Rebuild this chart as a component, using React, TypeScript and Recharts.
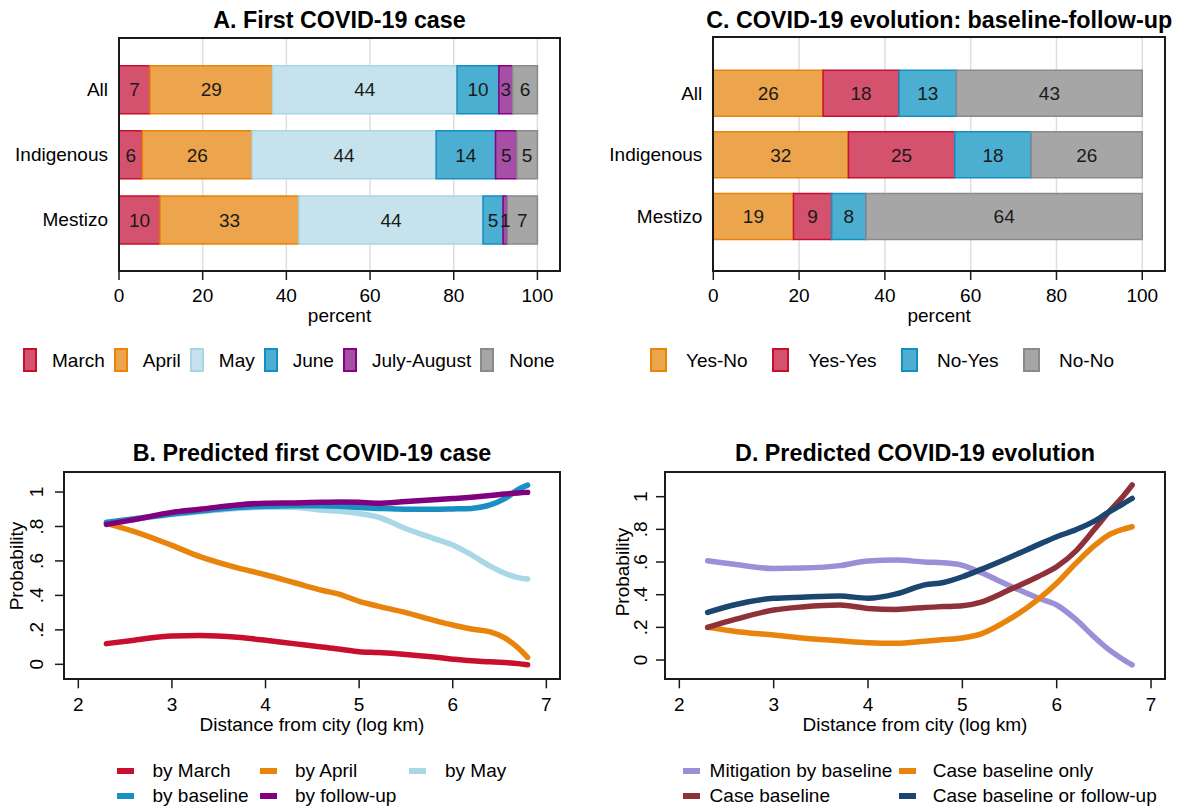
import React from 'react';
import { BarChart, Bar, LineChart, Line, XAxis, YAxis, CartesianGrid, LabelList } from 'recharts';

const FONT = '"Liberation Sans", Arial, Helvetica, sans-serif';

// ---- A. First COVID-19 case (percent of households) ----
const groups = ['All', 'Indigenous', 'Mestizo'];
const marchPct = [7.4, 5.6, 9.8];
const aprilPct = [29.3, 26.2, 33.2];
const mayPct = [44.1, 44.0, 44.0];
const junePct = [10.0, 14.2, 4.8];
const julAugPct = [3.3, 5.1, 1.0];
const nonePct = [5.9, 4.9, 7.2];

// ---- C. COVID-19 evolution baseline / follow-up ----
const yesNoPct = [25.6, 31.5, 18.7];
const yesYesPct = [17.7, 24.8, 8.9];
const noYesPct = [13.4, 17.8, 8.0];
const noNoPct = [43.3, 25.9, 64.4];

const pctTicks = [0, 20, 40, 60, 80, 100];

// ---- B / D. predicted probabilities by log distance ----
const logDistance = [2.3, 2.6, 3.0, 3.3, 3.7, 4.0, 4.3, 4.6, 4.8, 5.0, 5.2, 5.5, 5.8, 6.0, 6.2, 6.4, 6.55, 6.7, 6.8];

const byMarch = [0.12, 0.14, 0.165, 0.167, 0.157, 0.14, 0.12, 0.1, 0.088, 0.073, 0.068, 0.057, 0.042, 0.03, 0.02, 0.015, 0.01, 0.004, -0.003];
const byApril = [0.818, 0.77, 0.69, 0.625, 0.56, 0.52, 0.475, 0.43, 0.405, 0.365, 0.338, 0.3, 0.255, 0.228, 0.205, 0.188, 0.155, 0.095, 0.04];
const byMay = [0.82, 0.84, 0.87, 0.885, 0.905, 0.912, 0.912, 0.895, 0.888, 0.875, 0.855, 0.787, 0.73, 0.692, 0.635, 0.57, 0.53, 0.503, 0.495];
const byBaseline = [0.825, 0.845, 0.873, 0.89, 0.91, 0.918, 0.92, 0.92, 0.917, 0.91, 0.905, 0.9, 0.9, 0.902, 0.905, 0.925, 0.96, 1.015, 1.04];
const byFollowUp = [0.812, 0.84, 0.882, 0.9, 0.925, 0.935, 0.937, 0.94, 0.942, 0.94, 0.935, 0.945, 0.955, 0.962, 0.97, 0.98, 0.988, 0.995, 0.998];

const mitigationBaseline = [0.608, 0.585, 0.56, 0.563, 0.578, 0.607, 0.612, 0.6, 0.595, 0.58, 0.535, 0.455, 0.38, 0.337, 0.25, 0.14, 0.065, 0.005, -0.03];
const caseBaselineOnly = [0.2, 0.175, 0.153, 0.135, 0.118, 0.106, 0.102, 0.115, 0.125, 0.135, 0.16, 0.25, 0.37, 0.47, 0.59, 0.7, 0.765, 0.8, 0.816];
const caseBaseline = [0.2, 0.25, 0.306, 0.325, 0.337, 0.316, 0.31, 0.322, 0.327, 0.332, 0.355, 0.43, 0.51, 0.571, 0.665, 0.8, 0.905, 1.0, 1.072];
const caseEither = [0.292, 0.34, 0.378, 0.385, 0.392, 0.378, 0.405, 0.46, 0.475, 0.51, 0.555, 0.628, 0.705, 0.755, 0.797, 0.85, 0.905, 0.955, 0.99];

const distTicks = [2, 3, 4, 5, 6, 7];
const probTicks = [0, 0.2, 0.4, 0.6, 0.8, 1];

type BarSeries = { name: string; values: number[]; fill: string; stroke: string };
type LineSeries = { name: string; values: number[]; color: string };

const firstCaseSeries: BarSeries[] = [
  { name: 'March', values: marchPct, fill: '#d5526e', stroke: '#c8102e' },
  { name: 'April', values: aprilPct, fill: '#eca54c', stroke: '#e8830c' },
  { name: 'May', values: mayPct, fill: '#c6e3ed', stroke: '#a9d6e6' },
  { name: 'June', values: junePct, fill: '#4caed0', stroke: '#1390c0' },
  { name: 'July-August', values: julAugPct, fill: '#a74fa7', stroke: '#850085' },
  { name: 'None', values: nonePct, fill: '#a6a6a6', stroke: '#8a8a8a' },
];

const evolutionSeries: BarSeries[] = [
  { name: 'Yes-No', values: yesNoPct, fill: '#eca54c', stroke: '#e8830c' },
  { name: 'Yes-Yes', values: yesYesPct, fill: '#d5526e', stroke: '#c8102e' },
  { name: 'No-Yes', values: noYesPct, fill: '#4caed0', stroke: '#1390c0' },
  { name: 'No-No', values: noNoPct, fill: '#a6a6a6', stroke: '#8a8a8a' },
];

const firstCaseLines: LineSeries[] = [
  { name: 'by March', values: byMarch, color: '#c8102e' },
  { name: 'by April', values: byApril, color: '#e8830c' },
  { name: 'by May', values: byMay, color: '#a9d7e7' },
  { name: 'by baseline', values: byBaseline, color: '#1a8fc2' },
  { name: 'by follow-up', values: byFollowUp, color: '#800080' },
];

const evolutionLines: LineSeries[] = [
  { name: 'Mitigation by baseline', values: mitigationBaseline, color: '#9b90d8' },
  { name: 'Case baseline only', values: caseBaselineOnly, color: '#e8830c' },
  { name: 'Case baseline', values: caseBaseline, color: '#8e3139' },
  { name: 'Case baseline or follow-up', values: caseEither, color: '#1a4670' },
];

const barTable = (series: BarSeries[]) =>
  groups.map((g, i) => {
    const row: Record<string, any> = { group: g };
    series.forEach((s) => (row[s.name] = s.values[i]));
    return row;
  });

const lineTable = (series: LineSeries[]) =>
  logDistance.map((d, i) => {
    const row: Record<string, any> = { dist: d };
    series.forEach((s) => (row[s.name] = s.values[i]));
    return row;
  });

const fmtPct = (v: any) => String(Math.round(Number(v)));
const fmtProb = (v: number) => (v === 0 ? '0' : v === 1 ? '1' : String(v).replace('0.', '.'));

const Title: React.FC<{ text: string; center: number; top: number }> = ({ text, center, top }) => (
  <div
    style={{
      position: 'absolute', left: center - 320, top, width: 640, textAlign: 'center',
      fontSize: 23.3, lineHeight: '23px', fontWeight: 700, color: '#000', whiteSpace: 'nowrap',
    }}
  >
    {text}
  </div>
);

const Frame: React.FC<{ left: number; top: number; right: number; bottom: number }> = ({ left, top, right, bottom }) => (
  <div
    style={{
      position: 'absolute', left: left - 1, top: top - 1, width: right - left + 2, height: bottom - top + 2,
      border: '2px solid #1a1a1a', boxSizing: 'border-box', pointerEvents: 'none',
    }}
  />
);

const StackedPanel: React.FC<{
  x: number; width: number; plotLeft: number; plotRight: number; plotTop: number; plotBottom: number;
  domainMax: number; pad: number[]; barSize: number; series: BarSeries[]; title: string;
}> = ({ x, width, plotLeft, plotRight, plotTop, plotBottom, domainMax, pad, barSize, series, title }) => {
  const height = 340;
  const data = barTable(series);
  return (
    <>
      <Title text={title} center={x + (plotLeft + plotRight) / 2} top={8.8} />
      <div style={{ position: 'absolute', left: x, top: 0 }}>
        <BarChart
          width={width}
          height={height}
          data={data}
          layout="vertical"
          margin={{ top: plotTop, right: width - plotRight, left: 0, bottom: height - plotBottom - 50 }}
        >
          <CartesianGrid horizontal={false} stroke="#dedede" strokeWidth={1.5} />
          <XAxis
            type="number"
            domain={[0, domainMax]}
            ticks={pctTicks}
            interval={0}
            height={50}
            axisLine={false}
            tickSize={9}
            tickMargin={8.8}
            tickLine={{ stroke: '#1a1a1a', strokeWidth: 1.5 }}
            tick={{ fontSize: 19, fill: '#000' }}
            label={{ value: 'percent', position: 'insideBottom', offset: -0.5, fontSize: 19, fill: '#000' }}
          />
          <YAxis
            type="category"
            dataKey="group"
            width={plotLeft}
            padding={{ top: pad[0], bottom: pad[1] }}
            axisLine={false}
            tickLine={false}
            tickSize={0}
            tickMargin={11}
            tick={{ fontSize: 19, fill: '#000' }}
          />
          {series.map((s) => (
            <Bar
              key={s.name}
              dataKey={s.name}
              stackId="a"
              barSize={barSize}
              fill={s.fill}
              stroke={s.stroke}
              strokeWidth={1.5}
              isAnimationActive={false}
            >
              <LabelList dataKey={s.name} position="center" formatter={fmtPct} fontSize={19} fill="#1a1a1a" />
            </Bar>
          ))}
        </BarChart>
      </div>
      <Frame left={x + plotLeft} top={plotTop} right={x + plotRight} bottom={plotBottom} />
    </>
  );
};

const BoxLegend: React.FC<{ left: number; series: BarSeries[]; swatchW: number; textGap: number; gap: number }> = ({
  left, series, swatchW, textGap, gap,
}) => (
  <div style={{ position: 'absolute', left, top: 348, height: 24, display: 'flex', alignItems: 'center', gap }}>
    {series.map((s) => (
      <div key={s.name} style={{ display: 'flex', alignItems: 'center' }}>
        <div style={{ width: swatchW, height: 24, background: s.fill, border: `2px solid ${s.stroke}`, boxSizing: 'border-box' }} />
        <span style={{ marginLeft: textGap, fontSize: 19, lineHeight: '19px', whiteSpace: 'nowrap' }}>{s.name}</span>
      </div>
    ))}
  </div>
);

const RotTick = (props: any) => {
  const { x, y, payload } = props;
  return (
    <text x={x} y={y} transform={`rotate(-90 ${x} ${y})`} textAnchor="middle" fontSize={19} fill="#000">
      {fmtProb(payload.value)}
    </text>
  );
};

const LinePanel: React.FC<{
  x: number; width: number; plotLeft: number; plotRight: number; yDomain: number[]; xDomain: number[];
  yTickMargin: number; yTitleX: number; series: LineSeries[]; title: string;
}> = ({ x, width, plotLeft, plotRight, yDomain, xDomain, yTickMargin, yTitleX, series, title }) => {
  const top = 430;
  const height = 376;
  const plotTop = 41.7;
  const plotBottom = 249.3;
  const data = lineTable(series);
  const cy = (plotTop + plotBottom) / 2;
  return (
    <>
      <Title text={title} center={x + (plotLeft + plotRight) / 2} top={442.2} />
      <div style={{ position: 'absolute', left: x, top }}>
        <LineChart
          width={width}
          height={height}
          data={data}
          margin={{ top: plotTop, right: width - plotRight, left: 0, bottom: height - plotBottom - 55 }}
        >
          <XAxis
            type="number"
            dataKey="dist"
            domain={xDomain}
            ticks={distTicks}
            interval={0}
            height={55}
            axisLine={false}
            tickSize={9}
            tickMargin={9.5}
            tickLine={{ stroke: '#1a1a1a', strokeWidth: 1.5 }}
            tick={{ fontSize: 19, fill: '#000' }}
            label={{ value: 'Distance from city (log km)', position: 'insideBottom', offset: 3.3, fontSize: 19, fill: '#000' }}
          />
          <YAxis
            type="number"
            domain={yDomain}
            ticks={probTicks}
            interval={0}
            width={plotLeft}
            axisLine={false}
            tickSize={9}
            tickMargin={yTickMargin}
            tickLine={{ stroke: '#1a1a1a', strokeWidth: 1.5 }}
            tick={<RotTick />}
            label={
              <text x={yTitleX} y={cy} transform={`rotate(-90 ${yTitleX} ${cy})`} textAnchor="middle" fontSize={19} fill="#000">
                Probability
              </text>
            }
          />
          {series.map((s) => (
            <Line
              key={s.name}
              type="monotone"
              dataKey={s.name}
              stroke={s.color}
              strokeWidth={5.5}
              strokeLinecap="round"
              dot={false}
              isAnimationActive={false}
            />
          ))}
        </LineChart>
      </div>
      <Frame left={x + plotLeft} top={top + plotTop} right={x + plotRight} bottom={top + plotBottom} />
    </>
  );
};

const LineLegend: React.FC<{ left: number; series: LineSeries[]; colWidths: number[]; textGaps: number[] }> = ({
  left, series, colWidths, textGaps,
}) => {
  const cols = colWidths.length;
  return (
    <div
      style={{
        position: 'absolute', left, top: 758.2, display: 'grid',
        gridTemplateColumns: colWidths.map((w) => `${w}px`).join(' '), gridAutoRows: '25px', alignItems: 'center',
      }}
    >
      {series.map((s, i) => (
        <div key={s.name} style={{ display: 'flex', alignItems: 'center' }}>
          <div style={{ width: 17, height: 6, background: s.color }} />
          <span style={{ marginLeft: textGaps[i % cols], fontSize: 19, lineHeight: '19px', whiteSpace: 'nowrap' }}>{s.name}</span>
        </div>
      ))}
    </div>
  );
};

export default function App() {
  return (
    <div
      style={{
        position: 'absolute', left: 0, top: 0, width: 1189, height: 806, background: '#fff',
        overflow: 'hidden', fontFamily: FONT, color: '#000',
      }}
    >
      <StackedPanel
        x={0} width={600} plotLeft={119} plotRight={560} plotTop={37.7} plotBottom={271}
        domainMax={105.4} pad={[19, 19]} barSize={48} series={firstCaseSeries} title="A. First COVID-19 case"
      />
      <BoxLegend left={23} series={firstCaseSeries} swatchW={14} textGap={15} gap={9} />

      <StackedPanel
        x={590} width={599} plotLeft={123.3} plotRight={575} plotTop={37.3} plotBottom={271}
        domainMax={105.3} pad={[25, 24]} barSize={46} series={evolutionSeries}
        title="C. COVID-19 evolution: baseline-follow-up"
      />
      <BoxLegend left={650} series={evolutionSeries} swatchW={17} textGap={19} gap={24.5} />

      <LinePanel
        x={0} width={600} plotLeft={64} plotRight={560} xDomain={[1.847, 7.146]} yDomain={[-0.087, 1.118]}
        yTickMargin={11.7} yTitleX={22.5} series={firstCaseLines} title="B. Predicted first COVID-19 case"
      />
      <LineLegend left={116.5} series={firstCaseLines} colWidths={[143.5, 149, 160]} textGaps={[19, 18, 19]} />

      <LinePanel
        x={600} width={589} plotLeft={65} plotRight={565} xDomain={[1.848, 7.148]} yDomain={[-0.118, 1.153]}
        yTickMargin={9} yTitleX={29} series={evolutionLines} title="D. Predicted COVID-19 evolution"
      />
      <LineLegend left={683} series={evolutionLines} colWidths={[215.8, 260]} textGaps={[9.6, 17]} />
    </div>
  );
}
